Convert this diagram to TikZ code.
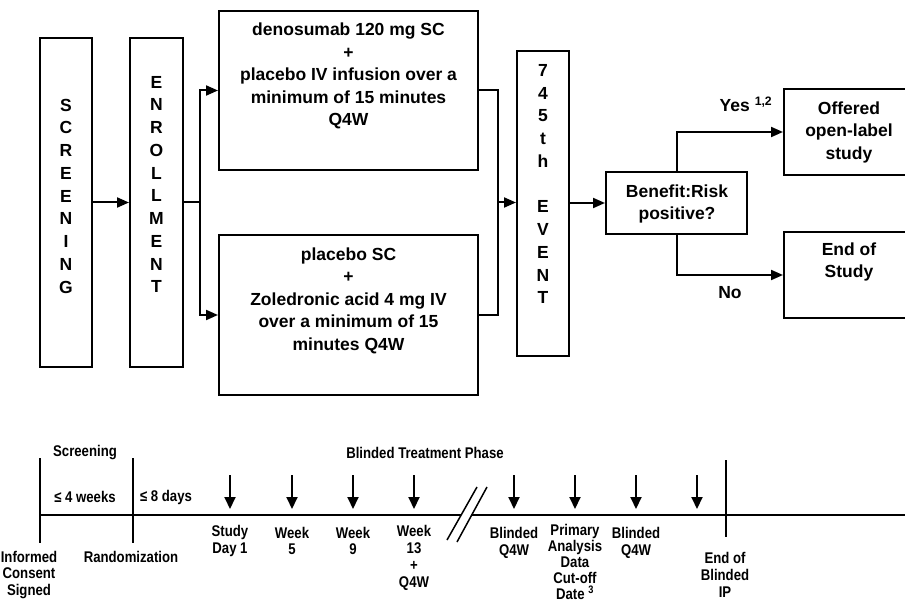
\documentclass[tikz,border=0pt]{standalone}
\usepackage{fontspec}
\setmainfont{Liberation Sans}
\newfontfamily\narrowfont[FakeStretch=0.85]{Liberation Sans}
\usetikzlibrary{arrows.meta}
\begin{document}
\begin{tikzpicture}[x=1pt,y=-1pt,
  box/.style={draw, line width=2pt, inner sep=0pt},
  big/.style={font=\fontsize{17.5}{22.5}\selectfont\bfseries, align=center, inner sep=0pt},
  vert/.style={font=\fontsize{17.5}{22.75}\selectfont\bfseries, align=center, inner sep=0pt},
  small/.style={font=\narrowfont\fontsize{15.5}{16.8}\selectfont\bfseries, align=center, inner sep=0pt},
  conn/.style={line width=2pt},
  arr/.style={conn, -{Triangle[length=12pt,width=10pt]}},
  tarr/.style={line width=2pt, -{Triangle[length=12pt,width=11pt]}},
]
\useasboundingbox (0,0) rectangle (905,604);
\fill[white] (0,0) rectangle (905,604);
\clip (0,0) rectangle (905,604);

% ---------- flow chart ----------
\node[box, minimum width=52pt, minimum height=329pt] (scr) at (66,202.5) {};
\node[vert] (scrt) at (66,196) {S\\C\\R\\E\\E\\N\\I\\N\\G};

\node[box, minimum width=53pt, minimum height=329pt] (enr) at (156.5,202.5) {};
\node[vert] (enrt) at (156.5,184.5) {E\\N\\R\\O\\L\\L\\M\\E\\N\\T};

\node[box, minimum width=259pt, minimum height=159pt] (arm1) at (348.5,90.5) {};
\node[big] (arm1t) at (348.5,76) {denosumab 120 mg SC\\+\\placebo IV infusion over a\\minimum of 15 minutes\\Q4W};

\node[box, minimum width=259pt, minimum height=160pt] (arm2) at (348.5,315) {};
\node[big] (arm2t) at (348.5,300.5) {placebo SC\\+\\Zoledronic acid 4 mg IV\\over a minimum of 15\\minutes Q4W};

\node[box, minimum width=52pt, minimum height=305pt] (evt) at (543,203.5) {};
\node[vert] (evtt) at (543,184) {7\\4\\5\\t\\h\\[22.75pt]E\\V\\E\\N\\T};

\node[box, minimum width=141pt, minimum height=62pt] (ben) at (676.5,203) {};
\node[big] (bent) at (677,204) {Benefit:Risk\\positive?};

\node[box, minimum width=131pt, minimum height=86pt] (off) at (849.5,132) {};
\node[big] (offt) at (849,132) {Offered\\open-label\\study};

\node[box, minimum width=131pt, minimum height=86pt] (eos) at (849.5,275) {};
\node[big] (eost) at (849,262) {End of\\Study};

\node[big, anchor=center] (yes) at (746,104) {Yes \textsuperscript{1,2}};
\node[big] (no) at (730,293) {No};

\coordinate (split) at (200,202.5);
\coordinate (join) at (498,202.5);

\draw[arr] (scr.east) -- (enr.west);
\draw[conn] (enr.east) -- (split);
\draw[arr] (split) |- (arm1.west);
\draw[arr] (split) |- (arm2.west);
\draw[conn] (arm1.east) -| (join);
\draw[conn] (arm2.east) -| (join);
\draw[arr] (join) -- (evt.west |- join);
\draw[arr] (evt.east |- ben.west) -- (ben.west);
\draw[arr] (ben.north) |- (off.west);
\draw[arr] (ben.south) |- (eos.west);

% ---------- timeline ----------
\draw[line width=2.2pt] (40,515) -- (461,515);
\draw[line width=2.2pt] (471,515) -- (905,515);
\draw[line width=1.5pt] (447,540) -- (477,487);
\draw[line width=1.5pt] (457,542) -- (487,487);
\draw[line width=1.8pt] (40,458) -- (40,543);
\draw[line width=1.8pt] (133,458) -- (133,543);
\draw[line width=1.8pt] (726,460) -- (726,537);

\foreach \xx in {230,292,353,414,514,575,636,697}
  \draw[tarr] (\xx,475) -- (\xx,509);

\node[small] (lscr) at (85,453) {Screening};
\node[small] (lbtp) at (425,453) {Blinded Treatment Phase};
\node[small] (l4w) at (85,497) {≤ 4 weeks};
\node[small] (l8d) at (166,497) {≤ 8 days};
\node[small] (lics) at (29,575) {Informed\\Consent\\Signed};
\node[small] (lran) at (131,557) {Randomization};
\node[small] (lsd1) at (230,541) {Study\\Day 1};
\node[small] (lw5) at (292,541) {Week\\5};
\node[small] (lw9) at (353,541) {Week\\9};
\node[small] (lw13) at (414,558) {Week\\13\\+\\Q4W};
\node[small] (lbq1) at (514,543) {Blinded\\Q4W};
\node[small, font=\narrowfont\fontsize{15.5}{15.8}\selectfont\bfseries] (lpad) at (575,562) {Primary\\Analysis\\Data\\Cut-off\\Date \textsuperscript{3}};
\node[small] (lbq2) at (636,543) {Blinded\\Q4W};
\node[small] (leob) at (725,575) {End of\\Blinded\\IP};
\end{tikzpicture}
\end{document}
